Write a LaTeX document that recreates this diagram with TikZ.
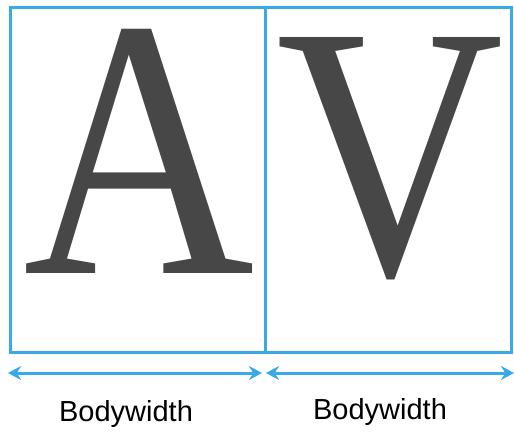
\documentclass[tikz,border=0pt]{standalone}
\usepackage{fontspec}
\setmainfont{Liberation Serif}
\newfontfamily\labelfont{Liberation Sans}
\usepackage{graphicx}
\usepackage{tikz}
\usetikzlibrary{arrows.meta,positioning}

\definecolor{lineblue}{RGB}{58,169,232}
\definecolor{glyphgray}{RGB}{71,71,71}

\begin{document}
\begin{tikzpicture}[
        x=1pt,y=1pt,
        panel/.style={rectangle,draw=lineblue,line width=3pt,inner sep=0pt,outer sep=0pt,anchor=north west},
        glyph/.style={inner sep=0pt,text=glyphgray,anchor=base west,font=\fontsize{362}{362}\selectfont},
        widtharrow/.style={{Stealth[length=13pt,width=14pt]}-{Stealth[length=13pt,width=14pt]},draw=lineblue,line width=3pt},
        caption/.style={font=\labelfont\fontsize{29}{31}\selectfont,anchor=base},
    ]
    \useasboundingbox (0,0) rectangle (514,432);
    % === panels ===
    \node[panel,minimum width=254.5pt,minimum height=345pt] (leftpanel) at (10.5,424.5) {};
    \node[panel,minimum width=246.5pt,minimum height=345pt] (rightpanel) at (265,424.5) {};

    % === letters ===
    \node[glyph,font=\fontsize{370}{370}\selectfont] (letA) at (23,159) {\scalebox{0.866}[1]{A}};
    \node[glyph] (letV) at (276,158) {\scalebox{0.87}[1]{V}};

    % === body widths ===
    \coordinate (aL) at (8,59);
    \coordinate (aR) at (262,59);
    \coordinate (vL) at (266,59);
    \coordinate (vR) at (514,59);
    \draw[widtharrow] (aL) -- (aR);
    \draw[widtharrow] (vL) -- (vR);

    \node[caption] (capA) at (126,11) {Bodywidth};
    \node[caption] (capV) at (380,13) {Bodywidth};
\end{tikzpicture}
\end{document}
